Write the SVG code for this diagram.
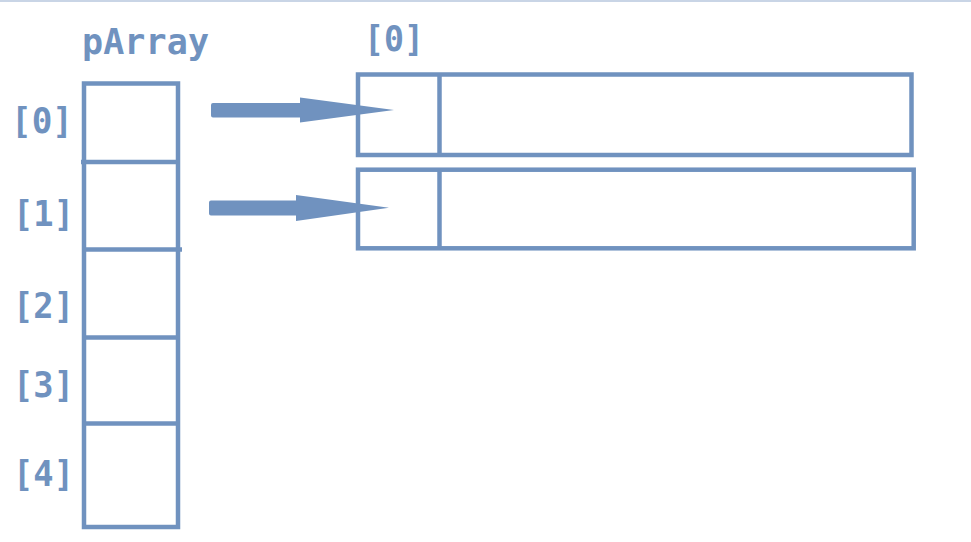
<svg xmlns="http://www.w3.org/2000/svg" width="971" height="542" viewBox="0 0 971 542">
<style>
.ln{fill:none;stroke:#7092bf;stroke-width:4.5}
.t{font-family:"DejaVu Sans Mono","Liberation Mono",monospace;font-weight:bold;fill:#7092bf;font-size:35px}
.ar{fill:#7092bf}
</style>
<rect x="0" y="0" width="971" height="542" fill="#ffffff"/>
<line x1="0" y1="1" x2="971" y2="1" stroke="#c9d5e6" stroke-width="2"/>
<text class="t" x="82" y="54" font-size="31" textLength="127" lengthAdjust="spacing">pArray</text>
<text class="t" x="364" y="51" textLength="60" lengthAdjust="spacingAndGlyphs">[0]</text>
<g id="pArray">
  <rect class="ln" x="84" y="83.5" width="94" height="443.5"/>
  <line class="ln" x1="81" y1="162" x2="178" y2="162"/>
  <line class="ln" x1="84" y1="249.5" x2="182" y2="249.5"/>
  <line class="ln" x1="84" y1="337.5" x2="178" y2="337.5"/>
  <line class="ln" x1="84" y1="423.5" x2="178" y2="423.5"/>
</g>
<g id="labels">
  <text class="t" x="11" y="133" textLength="62" lengthAdjust="spacingAndGlyphs">[0]</text>
  <text class="t" x="13" y="226" textLength="61" lengthAdjust="spacingAndGlyphs">[1]</text>
  <text class="t" x="13" y="318" textLength="61" lengthAdjust="spacingAndGlyphs">[2]</text>
  <text class="t" x="13" y="397" textLength="61" lengthAdjust="spacingAndGlyphs">[3]</text>
  <text class="t" x="13" y="486" textLength="61" lengthAdjust="spacingAndGlyphs">[4]</text>
</g>
<g id="row0">
  <rect class="ln" x="358" y="74.5" width="553.5" height="80.5"/>
  <line class="ln" x1="439.5" y1="74.5" x2="439.5" y2="155"/>
</g>
<g id="row1">
  <rect class="ln" x="358" y="169.7" width="555.7" height="78.6"/>
  <line class="ln" x1="439.5" y1="169.7" x2="439.5" y2="248.3"/>
</g>
<g id="connectors">
  <path class="ar" d="M213,103 L300,103 L300,97.5 L394,110 L300,122.5 L300,117.5 L213,117.5 Q211,117.5 211,115.5 L211,105 Q211,103 213,103 Z"/>
  <path class="ar" d="M211,200.5 L296,200.5 L296,195 L389,207.8 L296,221 L296,215.5 L211,215.5 Q209,215.5 209,213.5 L209,202.5 Q209,200.5 211,200.5 Z"/>
</g>
</svg>
